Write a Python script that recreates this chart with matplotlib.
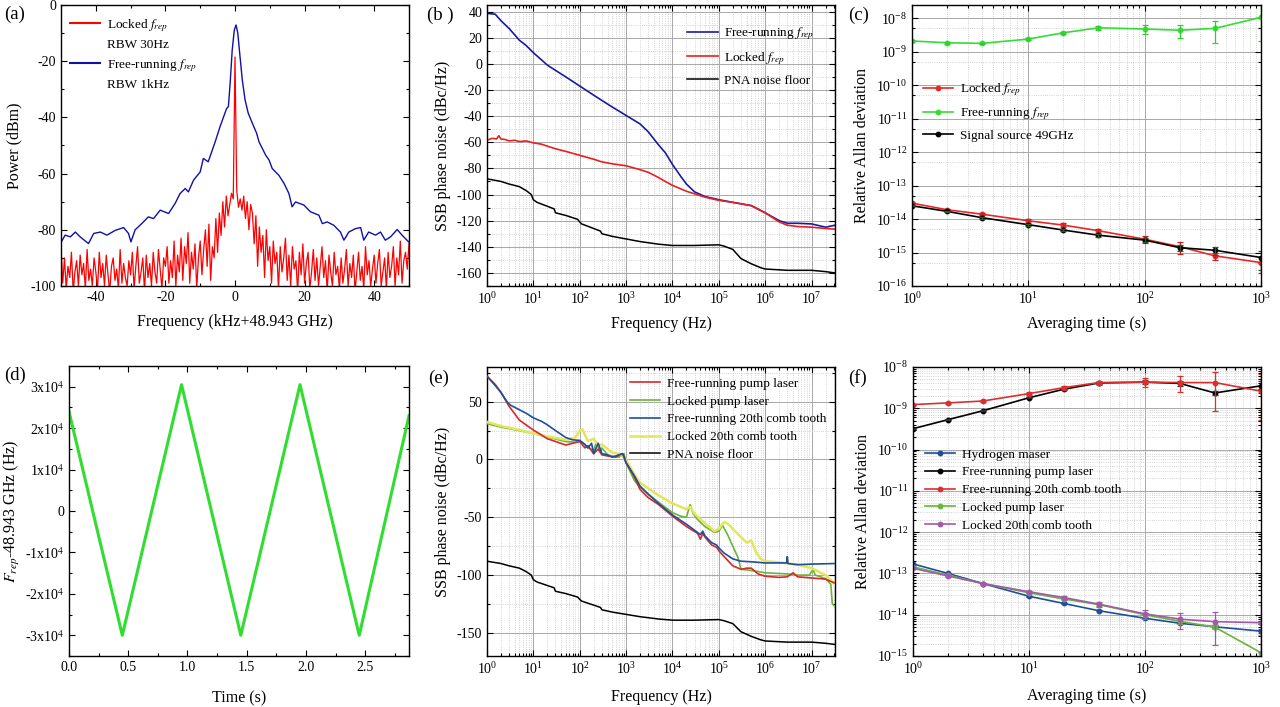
import numpy as np
import matplotlib
matplotlib.use('Agg')
import matplotlib.pyplot as plt
from matplotlib.lines import Line2D
from matplotlib.ticker import MultipleLocator, LogLocator, NullFormatter, FixedLocator, FixedFormatter

plt.rcParams['font.family'] = ['Liberation Serif', 'DejaVu Serif']
plt.rcParams['mathtext.fontset'] = 'stix'
plt.rcParams['axes.unicode_minus'] = False
plt.rcParams['font.size'] = 10

# ---------------- (a) espectro ----------------
a_azul_x = [-50.2, -48.8, -47.3, -45.9, -44.5, -42.1, -40.6, -38.7, -36.8, -34.4, -32.0, -30.6, -29.9,
            -28.7, -26.8, -24.9, -23.4, -21.5, -19.1, -17.2, -15.8, -14.3, -13.4, -11.9, -10.0, -9.1,
            -7.7, -5.7, -4.3, -2.4, -1.9, -1.4, -0.8, -0.2, 0.3, 0.8, 1.4, 2.1, 2.9, 3.8, 5.2, 6.2,
            6.9, 8.8, 9.8, 10.7, 12.6, 14.1, 15.5, 16.4, 17.4, 19.8, 21.7, 24.1, 25.1, 26.5, 28.4,
            30.3, 31.3, 32.7, 34.6, 36.1, 37.0, 38.4, 40.4, 41.8, 43.2, 44.7, 46.6, 48.0, 49.9]
a_azul_y = [-84.9, -81.9, -82.5, -80.8, -82.5, -84.9, -81.3, -80.8, -81.9, -80.2, -79.2, -81.3, -84.3,
            -80.0, -77.8, -75.4, -76.0, -73.0, -74.2, -70.6, -67.1, -65.3, -66.5, -62.3, -59.4, -54.6,
            -55.8, -48.7, -43.3, -36.8, -36.2, -27.9, -16.0, -8.9, -7.1, -10.0, -17.8, -26.7, -33.8,
            -38.5, -42.7, -45.6, -48.7, -53.4, -55.2, -58.2, -60.6, -63.5, -67.1, -71.8, -70.1, -71.2,
            -73.6, -74.8, -77.8, -77.2, -78.4, -80.8, -83.7, -80.8, -79.6, -79.2, -83.7, -80.8, -81.9,
            -80.8, -83.7, -82.5, -79.9, -81.9, -84.3]

a_rojo_y = [-86, -99, -90, -101, -93, -97, -88, -102, -95, -91,
            -100, -89, -96, -92, -101, -87, -98, -94, -100, -90,
            -95, -101, -88, -97, -92, -100, -89, -96, -102, -93,
            -90, -98, -94, -101, -87, -99, -92, -97, -100, -91,
            -96, -88, -101, -93, -86, -99, -95, -90, -102, -89,
            -97, -92, -100, -88, -95, -99, -87, -94, -101, -90,
            -93, -86, -99, -91, -97, -84, -100, -89, -95, -83,
            -98, -86, -92, -81, -99, -88, -94, -85, -101, -90,
            -84, -96, -87, -80, -93, -78, -98, -86, -90, -76,
            -88, -74, -82, -70, -79, -68, -75, -71, -67, -69,
            -18.5,
            -66, -72, -69, -73, -68, -76, -70, -80, -71, -74,
            -85, -75, -93, -79, -88, -82, -97, -80, -91, -86,
            -99, -84, -92, -88, -101, -86, -95, -90, -83, -98,
            -89, -100, -86, -94, -91, -102, -88, -96, -85, -99,
            -92, -88, -101, -95, -87, -98, -90, -100, -93, -86,
            -97, -91, -102, -89, -95, -100, -88, -96, -93, -101,
            -90, -99, -94, -87, -100, -92, -97, -89, -102, -95,
            -88, -98, -93, -101, -86, -96, -91, -100, -94, -89,
            -99, -92, -87, -100, -95, -90, -101, -88, -97, -93,
            -86, -100, -90, -96, -84, -99, -91, -88, -94, -85]
a_rojo_x = np.linspace(-50, 50, len(a_rojo_y))

# ---------------- (b) ruido de fase ----------------
b_libre_f = [1, 1.5, 2, 3, 4, 5, 7, 10, 15, 20, 30, 50, 100, 200, 300, 500, 1e3, 2e3, 3e3, 5e3, 7e3,
             1e4, 1.5e4, 2e4, 3e4, 5e4, 1e5, 2e5, 5e5, 1e6, 2e6, 3e6, 5e6, 1e7, 2e7, 3.2e7]
b_libre = [38.5, 38, 33, 27, 22, 18, 14, 8.5, 3, -1, -5, -10, -17, -24, -28, -33, -39.5, -46, -52, -62,
           -68, -77, -86, -92, -98, -101.5, -104, -106, -108.5, -114, -120, -122, -122, -122.5, -125, -123.5]
b_lock_f = [1, 1.3, 1.6, 1.8, 2, 2.5, 3, 4, 5, 7, 10, 15, 20, 30, 50, 100, 200, 300, 500, 1e3,
            2e3, 3e3, 5e3, 7e3, 1e4, 2e4, 3e4, 5e4, 1e5, 2e5, 5e5, 1e6, 2e6, 3e6, 5e6, 1e7, 2e7, 3.2e7]
b_lock = [-58.5, -57, -57.5, -55, -57.5, -58, -59, -58.5, -59.5, -59, -60.5, -61.5, -63, -65, -67, -70,
          -73, -75, -76.5, -78, -81, -83, -87, -90, -93, -97.5, -99.5, -102, -104.5, -106, -108.5, -114,
          -121, -123.5, -124.5, -125, -126, -126.5]
pna_f = [1, 2, 3, 5, 7, 9, 10, 12, 20, 28, 30, 50, 90, 100, 110, 200, 280, 300, 500, 1e3, 2e3, 5e3,
         1e4, 3e4, 1e5, 1.3e5, 2e5, 3e5, 5e5, 8e5, 1e6, 3e6, 1e7, 2e7, 3.2e7]
pna = [-88, -90, -92, -94, -97, -100, -104, -106, -109, -111, -114, -116, -119, -121, -122.5, -126,
       -128, -130, -132, -134, -136, -138, -139, -139, -138.5, -139.5, -142, -149, -153, -156, -157,
       -158, -158, -159, -160]

# ---------------- (c) Allan ----------------
tau = [1, 2, 4, 10, 20, 40, 100, 200, 400, 1000]
c_lock = [3.0e-14, 1.9e-14, 1.4e-14, 8.9e-15, 6.6e-15, 4.5e-15, 2.5e-15, 1.5e-15, 8.0e-16, 5.0e-16]
c_lock_err = [2e-15, 1.5e-15, 1.2e-15, 1e-15, 8e-16, 7e-16, 6e-16, 6e-16, 2e-16, 2.5e-16]
c_libre = [2.1e-9, 1.86e-9, 1.78e-9, 2.4e-9, 3.7e-9, 5.2e-9, 4.8e-9, 4.4e-9, 5.0e-9, 1.07e-8]
c_libre_err = [1e-10, 1e-10, 1e-10, 2e-10, 3e-10, 8e-10, 1.3e-9, 1.8e-9, 3.2e-9, 1.4e-8]
c_fuente = [2.5e-14, 1.7e-14, 1.1e-14, 6.8e-15, 4.7e-15, 3.3e-15, 2.35e-15, 1.4e-15, 1.17e-15, 7.1e-16]
c_fuente_err = [1e-15, 8e-16, 6e-16, 5e-16, 4e-16, 3e-16, 3e-16, 3e-16, 3e-16, 4e-16]

# ---------------- (d) barrido ----------------
d_t = [0, 0.45, 0.95, 1.45, 1.95, 2.45, 2.87]
d_f = [2.4e4, -3.0e4, 3.05e4, -3.0e4, 3.05e4, -3.0e4, 2.3e4]

# ---------------- (e) ruido de fase ----------------
e_rojo_f = [1, 1.5, 2, 3, 5, 10, 20, 50, 100, 130, 150, 200, 250, 300, 400, 600, 800, 900, 1e3, 1.2e3,
            1.5e3, 2e3, 3e3, 5e3, 1e4, 2e4, 3.5e4, 4e4, 4.5e4, 5e4, 7e4, 9e4, 1e5, 1.3e5, 2e5, 3e5,
            4e5, 5e5, 7e5, 1e6, 2e6, 3e6, 4e6, 5e6, 1e7, 2e7, 3.2e7]
e_rojo = [72, 65, 58, 46, 34, 25.5, 18, 12.5, 15.5, 10, 12, 5, 9, 4, 3, 2, 5, 3, -3, -8,
          -15, -26, -33, -39, -49, -58, -64, -69, -64, -67, -74, -76, -79, -84, -92, -95,
          -94, -94, -99, -101, -102, -101.5, -98, -101.5, -102.5, -103.5, -107]
e_azul_f = [1, 1.5, 2, 2.7, 3.2, 4, 5, 7, 10, 15, 20, 30, 50, 70, 100, 130, 150, 180, 200, 250,
            300, 400, 500, 700, 850, 1e3, 1.5e3, 2e3, 3e3, 5e3, 1e4, 2e4, 4e4, 4.5e4, 5e4, 7e4,
            9e4, 1e5, 1.3e5, 2e5, 3e5, 5e5, 1e6, 2.9e6, 3e6, 3.1e6, 5e6, 1e7, 3.2e7]
e_azul = [72, 64, 58, 50, 47, 45, 43, 40, 36, 33, 30, 25, 19, 17, 16.5, 13, 10, 14, 5, 14,
          5, 4, 2, 4, 5, -3, -14, -23, -30, -38, -48, -56, -65, -62, -66, -72,
          -74, -76.5, -81, -86, -88, -88.5, -89.5, -89.5, -84, -90, -91, -90.5, -90]
e_verde_f = [1, 2, 5, 10, 20, 50, 80, 100, 120, 150, 200, 230, 280, 300, 400, 500, 700, 900, 1e3,
             1.5e3, 2e3, 3e3, 5e3, 1e4, 1.5e4, 2e4, 2.4e4, 2.8e4, 3.5e4, 5e4, 8e4, 1e5, 1.2e5,
             1.5e5, 2e5, 2.6e5, 3e5, 5e5, 1e6, 3e6, 5e6, 9e6, 1.07e7, 1.2e7, 2e7, 2.6e7, 2.8e7, 3.2e7]
e_verde = [31, 28, 25, 22.5, 19.5, 15.5, 15, 16, 14, 10, 8, 15, 6, 10, 4, 3, 2, 5, -3,
           -18, -24, -30, -37, -46, -49, -50, -39, -47, -52, -58, -63, -62, -57,
           -64, -75, -85, -95, -96, -98, -99, -100, -100, -95, -100, -103, -108, -125, -127]
e_amar_f = [1, 2, 5, 10, 20, 50, 80, 100, 115, 130, 150, 200, 250, 300, 500, 700, 1e3, 1.5e3, 2e3,
            3e3, 5e3, 1e4, 2e4, 2.4e4, 3e4, 5e4, 8e4, 1e5, 1.3e5, 1.6e5, 2e5, 2.8e5, 4e5, 5e5,
            6.3e5, 8e5, 1e6, 2e6, 5e6, 1e7, 2e7, 3.2e7]
e_amar = [32.5, 29, 25.5, 22.5, 20, 17, 19, 25, 26, 21, 16, 18, 12, 13, 6, 5, 0, -13, -20,
          -25, -31, -38, -43, -41, -47, -55, -62, -60, -54, -56, -60, -66, -72, -70,
          -80, -86, -88, -89, -91, -94, -100, -108]

# ---------------- (f) Allan ----------------
f_maser = [1.7e-13, 1.0e-13, 5.7e-14, 2.8e-14, 1.87e-14, 1.25e-14, 8.2e-15, 6.2e-15, 5.1e-15, 4.0e-15]
f_maser_err = [3e-15, 2e-15, 1e-15, 6e-16, 5e-16, 4e-16, 4e-16, 4e-16, 4e-16, 4e-16]
f_bomba = [3.2e-10, 5.3e-10, 8.7e-10, 1.8e-9, 2.9e-9, 4.1e-9, 4.3e-9, 4.0e-9, 2.35e-9, 3.5e-9]
f_bomba_err = [1e-11, 2e-11, 3e-11, 6e-11, 1e-10, 2e-10, 5e-10, 5e-10, 3e-10, 1.2e-9]
f_diente = [1.23e-9, 1.35e-9, 1.5e-9, 2.27e-9, 3.16e-9, 4.2e-9, 4.3e-9, 4.2e-9, 4.2e-9, 2.6e-9]
f_diente_err = [4e-11, 5e-11, 6e-11, 1.5e-10, 3e-10, 5e-10, 1.1e-9, 1.7e-9, 3.4e-9, 4.3e-9]
f_bomba_lock = [1.45e-13, 9.1e-14, 5.7e-14, 3.4e-14, 2.4e-14, 1.76e-14, 1.0e-14, 6.9e-15, 5.0e-15, 1.2e-15]
f_bomba_lock_err = [3e-15, 2e-15, 1.5e-15, 1.2e-15, 1e-15, 1e-15, 1e-15, 1e-15, 6e-16, 2e-15]
f_diente_lock = [1.33e-13, 8.7e-14, 5.7e-14, 3.6e-14, 2.6e-14, 1.8e-14, 1.05e-14, 7.8e-15, 6.8e-15, 6.4e-15]
f_diente_lock_err = [4e-15, 3e-15, 2e-15, 2e-15, 2.5e-15, 2.5e-15, 2.5e-15, 3.2e-15, 5e-15, 1.06e-14]


def marcos(ax):
    ax.tick_params(which='both', direction='in', top=True, right=True, labelsize=10, width=0.8)
    ax.tick_params(which='major', length=4)
    ax.tick_params(which='minor', length=2.2)
    for s in ax.spines.values():
        s.set_linewidth(1.0)


def rejilla(ax):
    ax.grid(True, which='major', color='#a8a8a8', lw=0.7)
    ax.grid(True, which='minor', color='#c4c4c4', lw=0.6, ls=':')
    ax.set_axisbelow(True)


def eje_log_x(ax):
    ax.set_xscale('log')
    ax.xaxis.set_major_locator(LogLocator(base=10, numticks=20))
    ax.xaxis.set_minor_locator(LogLocator(base=10, subs=np.arange(2, 10) * 1.0, numticks=50))
    ax.xaxis.set_minor_formatter(NullFormatter())


def allan(ax, x, y, err, color, ecolor, label):
    y = np.array(y)
    err = np.array(err)
    ln, = ax.plot(x, y, '-o', color=color, lw=1.2, ms=3.2, label=label)
    ax.errorbar(x, y, yerr=[np.minimum(err, 0.8 * y), err], fmt='none', ecolor=ecolor,
                elinewidth=0.9, capsize=2.5, capthick=0.9)
    return ln


fig = plt.figure(figsize=(12.8, 7.07), dpi=100)
W, H = 1280, 707


def caja(l, r, t, b):
    return fig.add_axes([l / W, 1 - b / H, (r - l) / W, (b - t) / H])


leg_kw = dict(frameon=False, fontsize=9.5, handlelength=2.3, handletextpad=0.5, borderpad=0.3)

# (a)
ax = caja(61, 409, 5, 286)
ax.plot(a_azul_x, a_azul_y, color='#1010a8', lw=1.0)
ax.plot(a_rojo_x, a_rojo_y, color='#ff0000', lw=0.9)
ax.set_xlim(-50, 50)
ax.set_ylim(-100, 0)
ax.xaxis.set_major_locator(MultipleLocator(20))
ax.xaxis.set_minor_locator(MultipleLocator(10))
ax.yaxis.set_major_locator(MultipleLocator(20))
ax.yaxis.set_minor_locator(MultipleLocator(10))
marcos(ax)
ax.set_xlabel('Frequency (kHz+48.943 GHz)', fontsize=11.5, labelpad=7)
ax.set_ylabel('Power (dBm)', fontsize=11.5, labelpad=6)
vacio = Line2D([], [], color='none')
ax.legend([Line2D([], [], color='#ff0000'), vacio, Line2D([], [], color='#1010a8'), vacio],
          [r'Locked $f_{rep}$', 'RBW 30Hz', r'Free-running $f_{rep}$', 'RBW 1kHz'],
          loc='upper left', bbox_to_anchor=(-0.005, 0.995), labelspacing=0.42, **leg_kw)

# (b)
ax = caja(487, 835, 5, 286)
eje_log_x(ax)
ax.plot(b_libre_f, b_libre, color='#1a1aa0', lw=1.2, label=r'Free-running $f_{rep}$')
ax.plot(b_lock_f, b_lock, color='#e82020', lw=1.2, label=r'Locked $f_{rep}$')
ax.plot(pna_f, pna, color='black', lw=1.1, label='PNA noise floor')
ax.set_xlim(1, 3.2e7)
ax.set_ylim(-170, 45)
ax.yaxis.set_major_locator(FixedLocator(np.arange(-160, 41, 20)))
ax.yaxis.set_minor_locator(MultipleLocator(10))
rejilla(ax)
marcos(ax)
ax.set_xlabel('Frequency (Hz)', fontsize=11.5, labelpad=7)
ax.set_ylabel('SSB phase noise (dBc/Hz)', fontsize=11.5, labelpad=4)
ax.legend(loc='upper left', bbox_to_anchor=(0.545, 0.965), labelspacing=0.6, **leg_kw)

# (c)
ax = caja(912, 1261, 5, 286)
ax.set_xscale('log')
ax.set_yscale('log')
h1 = allan(ax, tau, c_lock, c_lock_err, '#e82828', '#c82020', r'Locked $f_{rep}$')
h2 = allan(ax, tau, c_libre, c_libre_err, '#33dd33', '#33cc33', r'Free-running $f_{rep}$')
h3 = allan(ax, tau, c_fuente, c_fuente_err, 'black', '#2a5a2a', 'Signal source 49GHz')
ax.set_xlim(1, 1000)
ax.set_ylim(1e-16, 2.5e-8)
ax.xaxis.set_minor_locator(LogLocator(base=10, subs=np.arange(2, 10) * 1.0, numticks=50))
ax.xaxis.set_minor_formatter(NullFormatter())
ax.yaxis.set_major_locator(LogLocator(base=10, numticks=20))
ax.yaxis.set_minor_locator(LogLocator(base=10, subs=(5.0,), numticks=50))
ax.yaxis.set_minor_formatter(NullFormatter())
rejilla(ax)
marcos(ax)
ax.set_xlabel('Averaging time (s)', fontsize=11.5, labelpad=7)
ax.set_ylabel('Relative Allan deviation', fontsize=11.5, labelpad=4)
ax.legend(handles=[h1, h2, h3], loc='upper left', bbox_to_anchor=(0.0, 0.765),
          labelspacing=0.55, numpoints=1, **leg_kw)

# (d)
ax = caja(69, 409, 366, 656)
ax.plot(d_t, d_f, color='#30dd30', lw=2.2)
ax.set_xlim(0, 2.87)
ax.set_ylim(-3.5e4, 3.5e4)
ax.xaxis.set_major_locator(MultipleLocator(0.5))
ax.xaxis.set_minor_locator(MultipleLocator(0.25))
ax.xaxis.set_major_formatter(matplotlib.ticker.FormatStrFormatter('%.1f'))
d_ticks = [-3e4, -2e4, -1e4, 0, 1e4, 2e4, 3e4]
d_etiq = ['-3x10$^{4}$', '-2x10$^{4}$', '-1x10$^{4}$', '0', '1x10$^{4}$', '2x10$^{4}$', '3x10$^{4}$']
ax.yaxis.set_major_locator(FixedLocator(d_ticks))
ax.yaxis.set_major_formatter(FixedFormatter(d_etiq))
ax.yaxis.set_minor_locator(MultipleLocator(5e3))
marcos(ax)
ax.set_xlabel('Time (s)', fontsize=11.5, labelpad=12)
ax.set_ylabel(r'$F_{rep}$-48.943 GHz (Hz)', fontsize=11.5, labelpad=2)

# (e)
ax = caja(487, 835, 367, 656)
eje_log_x(ax)
ax.plot(e_verde_f, e_verde, color='#6ab43c', lw=1.2, zorder=3, label='Locked pump laser')
ax.plot(e_amar_f, e_amar, color='#e4e65a', lw=1.8, zorder=3, label='Locked 20th comb tooth')
ax.plot(e_rojo_f, e_rojo, color='#d62a2a', lw=1.2, zorder=4, label='Free-running pump laser')
ax.plot(e_azul_f, e_azul, color='#1f4e9c', lw=1.2, zorder=4, label='Free-running 20th comb tooth')
ax.plot(pna_f, pna, color='black', lw=1.1, zorder=4, label='PNA noise floor')
ax.set_xlim(1, 3.2e7)
ax.set_ylim(-170, 80)
ax.yaxis.set_major_locator(MultipleLocator(50))
ax.yaxis.set_minor_locator(MultipleLocator(25))
rejilla(ax)
marcos(ax)
ax.set_xlabel('Frequency (Hz)', fontsize=11.5, labelpad=9)
ax.set_ylabel('SSB phase noise (dBc/Hz)', fontsize=11.5, labelpad=4)
hs, ls = ax.get_legend_handles_labels()
orden = [2, 0, 3, 1, 4]
ax.legend([hs[i] for i in orden], [ls[i] for i in orden], loc='upper left',
          bbox_to_anchor=(0.38, 1.0), labelspacing=0.42, **leg_kw)

# (f)
ax = caja(913, 1261, 367, 656)
ax.set_xscale('log')
ax.set_yscale('log')
g1 = allan(ax, tau, f_maser, f_maser_err, '#1f4e9c', '#1f4e9c', 'Hydrogen maser')
g2 = allan(ax, tau, f_bomba, f_bomba_err, 'black', '#303030', 'Free-running pump laser')
g3 = allan(ax, tau, f_diente, f_diente_err, '#d83030', '#d83030', 'Free-running 20th comb tooth')
g4 = allan(ax, tau, f_bomba_lock, f_bomba_lock_err, '#6ab43c', '#6ab43c', 'Locked pump laser')
g5 = allan(ax, tau, f_diente_lock, f_diente_lock_err, '#a05aa8', '#a05aa8', 'Locked 20th comb tooth')
ax.set_xlim(1, 1000)
ax.set_ylim(1e-15, 1e-8)
ax.xaxis.set_minor_locator(LogLocator(base=10, subs=np.arange(2, 10) * 1.0, numticks=50))
ax.xaxis.set_minor_formatter(NullFormatter())
ax.yaxis.set_major_locator(LogLocator(base=10, numticks=20))
ax.yaxis.set_minor_locator(LogLocator(base=10, subs=np.arange(2, 10) * 1.0, numticks=50))
ax.yaxis.set_minor_formatter(NullFormatter())
rejilla(ax)
marcos(ax)
ax.set_xlabel('Averaging time (s)', fontsize=11.5, labelpad=8)
ax.set_ylabel('Relative Allan deviation', fontsize=11.5, labelpad=4)
ax.legend(handles=[g1, g2, g3, g4, g5], loc='upper left', bbox_to_anchor=(0.003, 0.755),
          labelspacing=0.42, numpoints=1, **leg_kw)

# etiquetas de panel
for txt, x, y in [('(a)', 4, 14), ('(b )', 427, 15), ('(c)', 848, 15),
                  ('(d)', 4, 375), ('(e)', 428, 378), ('(f)', 848, 378)]:
    fig.text(x / W, 1 - y / H, txt, fontsize=13.5, va='center', ha='left')

fig.savefig('out.png', dpi=100)
